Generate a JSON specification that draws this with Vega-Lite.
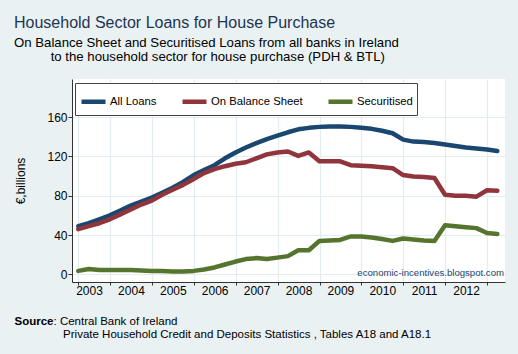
{
  "$schema": "https://vega.github.io/schema/vega-lite/v6.json",
  "width": 433,
  "height": 203,
  "autosize": "none",
  "padding": {"left": 72, "top": 79, "right": 13, "bottom": 72},
  "background": "#E9F1F3",
  "config": {
    "font": "Liberation Sans",
    "view": {"fill": "white", "stroke": null}
  },
  "title": {
    "text": "Household Sector Loans for House Purchase",
    "subtitle": ["On Balance Sheet and Securitised Loans from all banks in Ireland", "\u200b\u00a0\u00a0\u00a0\u00a0\u00a0\u00a0\u00a0\u00a0\u00a0\u00a0to the household sector for house purchase (PDH & BTL)"],
    "anchor": "start",
    "frame": "group",
    "dx": -58,
    "offset": 16,
    "fontSize": 16,
    "fontWeight": "normal",
    "color": "#1E3552",
    "subtitleFontSize": 13.2,
    "subtitleColor": "#000000",
    "subtitleLineHeight": 13.5,
    "subtitlePadding": 6
  },
  "data": {
    "values": [
      {"date": "2003-03-31", "All Loans": 49, "On Balance Sheet": 46, "Securitised": 3.5},
      {"date": "2003-06-30", "All Loans": 52, "On Balance Sheet": 49, "Securitised": 5.5},
      {"date": "2003-09-30", "All Loans": 56, "On Balance Sheet": 52, "Securitised": 4.5},
      {"date": "2003-12-31", "All Loans": 60, "On Balance Sheet": 56, "Securitised": 4.5},
      {"date": "2004-03-31", "All Loans": 65, "On Balance Sheet": 61, "Securitised": 4.5},
      {"date": "2004-06-30", "All Loans": 70, "On Balance Sheet": 66, "Securitised": 4.5},
      {"date": "2004-09-30", "All Loans": 74, "On Balance Sheet": 71, "Securitised": 4},
      {"date": "2004-12-31", "All Loans": 78, "On Balance Sheet": 75, "Securitised": 3.5},
      {"date": "2005-03-31", "All Loans": 83, "On Balance Sheet": 81, "Securitised": 3.5},
      {"date": "2005-06-30", "All Loans": 88, "On Balance Sheet": 86, "Securitised": 3},
      {"date": "2005-09-30", "All Loans": 94, "On Balance Sheet": 91, "Securitised": 3},
      {"date": "2005-12-31", "All Loans": 101, "On Balance Sheet": 97, "Securitised": 3.5},
      {"date": "2006-03-31", "All Loans": 106, "On Balance Sheet": 103, "Securitised": 5},
      {"date": "2006-06-30", "All Loans": 111, "On Balance Sheet": 107, "Securitised": 7},
      {"date": "2006-09-30", "All Loans": 118, "On Balance Sheet": 110, "Securitised": 10},
      {"date": "2006-12-31", "All Loans": 124, "On Balance Sheet": 112.5, "Securitised": 13},
      {"date": "2007-03-31", "All Loans": 129, "On Balance Sheet": 114, "Securitised": 15.5},
      {"date": "2007-06-30", "All Loans": 133.5, "On Balance Sheet": 118, "Securitised": 16.5},
      {"date": "2007-09-30", "All Loans": 137.5, "On Balance Sheet": 122, "Securitised": 15.5},
      {"date": "2007-12-31", "All Loans": 141, "On Balance Sheet": 124, "Securitised": 17},
      {"date": "2008-03-31", "All Loans": 144.5, "On Balance Sheet": 125, "Securitised": 18.5},
      {"date": "2008-06-30", "All Loans": 147.5, "On Balance Sheet": 120.5, "Securitised": 24.5},
      {"date": "2008-09-30", "All Loans": 149, "On Balance Sheet": 124, "Securitised": 24.5},
      {"date": "2008-12-31", "All Loans": 150, "On Balance Sheet": 115, "Securitised": 34},
      {"date": "2009-03-31", "All Loans": 150.5, "On Balance Sheet": 115, "Securitised": 34.5},
      {"date": "2009-06-30", "All Loans": 150.5, "On Balance Sheet": 115, "Securitised": 35},
      {"date": "2009-09-30", "All Loans": 150, "On Balance Sheet": 111, "Securitised": 38.5},
      {"date": "2009-12-31", "All Loans": 149, "On Balance Sheet": 110.5, "Securitised": 38.5},
      {"date": "2010-03-31", "All Loans": 148, "On Balance Sheet": 110, "Securitised": 37.5},
      {"date": "2010-06-30", "All Loans": 146, "On Balance Sheet": 109, "Securitised": 36},
      {"date": "2010-09-30", "All Loans": 143.5, "On Balance Sheet": 108, "Securitised": 34},
      {"date": "2010-12-31", "All Loans": 137, "On Balance Sheet": 101, "Securitised": 36.5},
      {"date": "2011-03-31", "All Loans": 135, "On Balance Sheet": 99.5, "Securitised": 35.5},
      {"date": "2011-06-30", "All Loans": 134.5, "On Balance Sheet": 99, "Securitised": 34.5},
      {"date": "2011-09-30", "All Loans": 133.5, "On Balance Sheet": 98, "Securitised": 34},
      {"date": "2011-12-31", "All Loans": 132, "On Balance Sheet": 81, "Securitised": 50},
      {"date": "2012-03-31", "All Loans": 130.5, "On Balance Sheet": 80, "Securitised": 49},
      {"date": "2012-06-30", "All Loans": 129, "On Balance Sheet": 80, "Securitised": 48},
      {"date": "2012-09-30", "All Loans": 128, "On Balance Sheet": 79, "Securitised": 47},
      {"date": "2012-12-31", "All Loans": 127, "On Balance Sheet": 85.5, "Securitised": 42},
      {"date": "2013-03-31", "All Loans": 125.5, "On Balance Sheet": 85, "Securitised": 41}
    ]
  },
  "layer": [
    {
      "transform": [{"fold": ["All Loans", "On Balance Sheet", "Securitised"], "as": ["series", "value"]}],
      "mark": {"type": "line", "strokeWidth": 4.5, "strokeJoin": "round", "strokeCap": "round"},
      "encoding": {
        "x": {
          "field": "date",
          "type": "temporal",
          "scale": {"domain": [{"year": 2003, "month": 2, "date": 4}, {"year": 2013, "month": 6, "date": 6}], "nice": false},
          "axis": {
            "orient": "bottom",
            "values": [
              {"year": 2003, "month": 7, "date": 2}, {"year": 2004, "month": 7, "date": 2},
              {"year": 2005, "month": 7, "date": 2}, {"year": 2006, "month": 7, "date": 2},
              {"year": 2007, "month": 7, "date": 2}, {"year": 2008, "month": 7, "date": 2},
              {"year": 2009, "month": 7, "date": 2}, {"year": 2010, "month": 7, "date": 2},
              {"year": 2011, "month": 7, "date": 2}, {"year": 2012, "month": 7, "date": 2}
            ],
            "format": "%Y",
            "ticks": false,
            "grid": false,
            "domain": true,
            "domainColor": "#333333",
            "labelFontSize": 12,
            "labelColor": "#000000",
            "labelPadding": 3,
            "labelFlush": false,
            "labelOverlap": false,
            "title": "Source",
            "titleFontSize": 11.5,
            "titleFontWeight": "bold",
            "titleColor": "#000000",
            "titleAngle": 0,
            "titleAlign": "left",
            "titleBaseline": "alphabetic",
            "titleX": -58,
            "titleY": 42
          }
        },
        "y": {
          "field": "value",
          "type": "quantitative",
          "scale": {"domain": [-7.8, 198.7], "nice": false, "zero": false},
          "axis": {
            "values": [0, 40, 80, 120, 160],
            "grid": true,
            "gridColor": "#E3ECF0",
            "gridWidth": 1.2,
            "tickSize": 4,
            "tickColor": "#333333",
            "domainColor": "#333333",
            "labelFontSize": 12,
            "labelColor": "#000000",
            "labelPadding": 1,
            "title": "€,billions",
            "titleFontSize": 12,
            "titleFontWeight": "normal",
            "titleColor": "#000000",
            "titleAngle": -90,
            "titleAlign": "center",
            "titleBaseline": "middle",
            "titleX": -52,
            "titleY": 101.5
          }
        },
        "color": {
          "field": "series",
          "type": "nominal",
          "scale": {"domain": ["All Loans", "On Balance Sheet", "Securitised"], "range": ["#1A476F", "#90353B", "#55752F"]},
          "legend": {
            "title": null,
            "orient": "none",
            "legendX": 3,
            "legendY": 4,
            "direction": "horizontal",
            "symbolType": "stroke",
            "symbolSize": 576,
            "symbolStrokeWidth": 4.5,
            "labelFontSize": 11.3,
            "labelColor": "#000000",
            "labelOffset": 2,
            "columnPadding": 16,
            "padding": 4,
            "strokeColor": "#444444",
            "fillColor": "white"
          }
        }
      }
    },
    {
      "data": {"values": [{"note": "economic-incentives.blogspot.com"}]},
      "mark": {"type": "text", "align": "right", "baseline": "alphabetic", "fontSize": 9.6, "color": "#1A476F", "dx": -1},
      "encoding": {
        "text": {"field": "note", "type": "nominal"},
        "x": {
          "datum": {"year": 2013, "month": 6, "date": 6},
          "type": "temporal",
          "axis": {
            "orient": "bottom",
            "values": [
              {"year": 2003, "month": 3, "date": 31}, {"year": 2004, "month": 1, "date": 1},
              {"year": 2005, "month": 1, "date": 1}, {"year": 2006, "month": 1, "date": 1},
              {"year": 2007, "month": 1, "date": 1}, {"year": 2008, "month": 1, "date": 1},
              {"year": 2009, "month": 1, "date": 1}, {"year": 2010, "month": 1, "date": 1},
              {"year": 2011, "month": 1, "date": 1}, {"year": 2012, "month": 1, "date": 1},
              {"year": 2013, "month": 1, "date": 1}
            ],
            "labels": false,
            "domain": false,
            "grid": true,
            "gridColor": "#E3ECF0",
            "gridWidth": 1.2,
            "ticks": true,
            "tickSize": 3,
            "tickColor": "#333333",
            "title": [": Central Bank of Ireland", "\u200b\u00a0\u00a0\u00a0Private Household Credit and Deposits Statistics , Tables A18 and A18.1"],
            "titleFontSize": 11.5,
            "titleFontWeight": "normal",
            "titleColor": "#000000",
            "titleAngle": 0,
            "titleAlign": "left",
            "titleBaseline": "alphabetic",
            "titleLineHeight": 13,
            "titleX": -19,
            "titleY": 42
          }
        },
        "y": {"datum": -1.5, "type": "quantitative"}
      }
    }
  ],
  "resolve": {"axis": {"x": "independent"}}
}
